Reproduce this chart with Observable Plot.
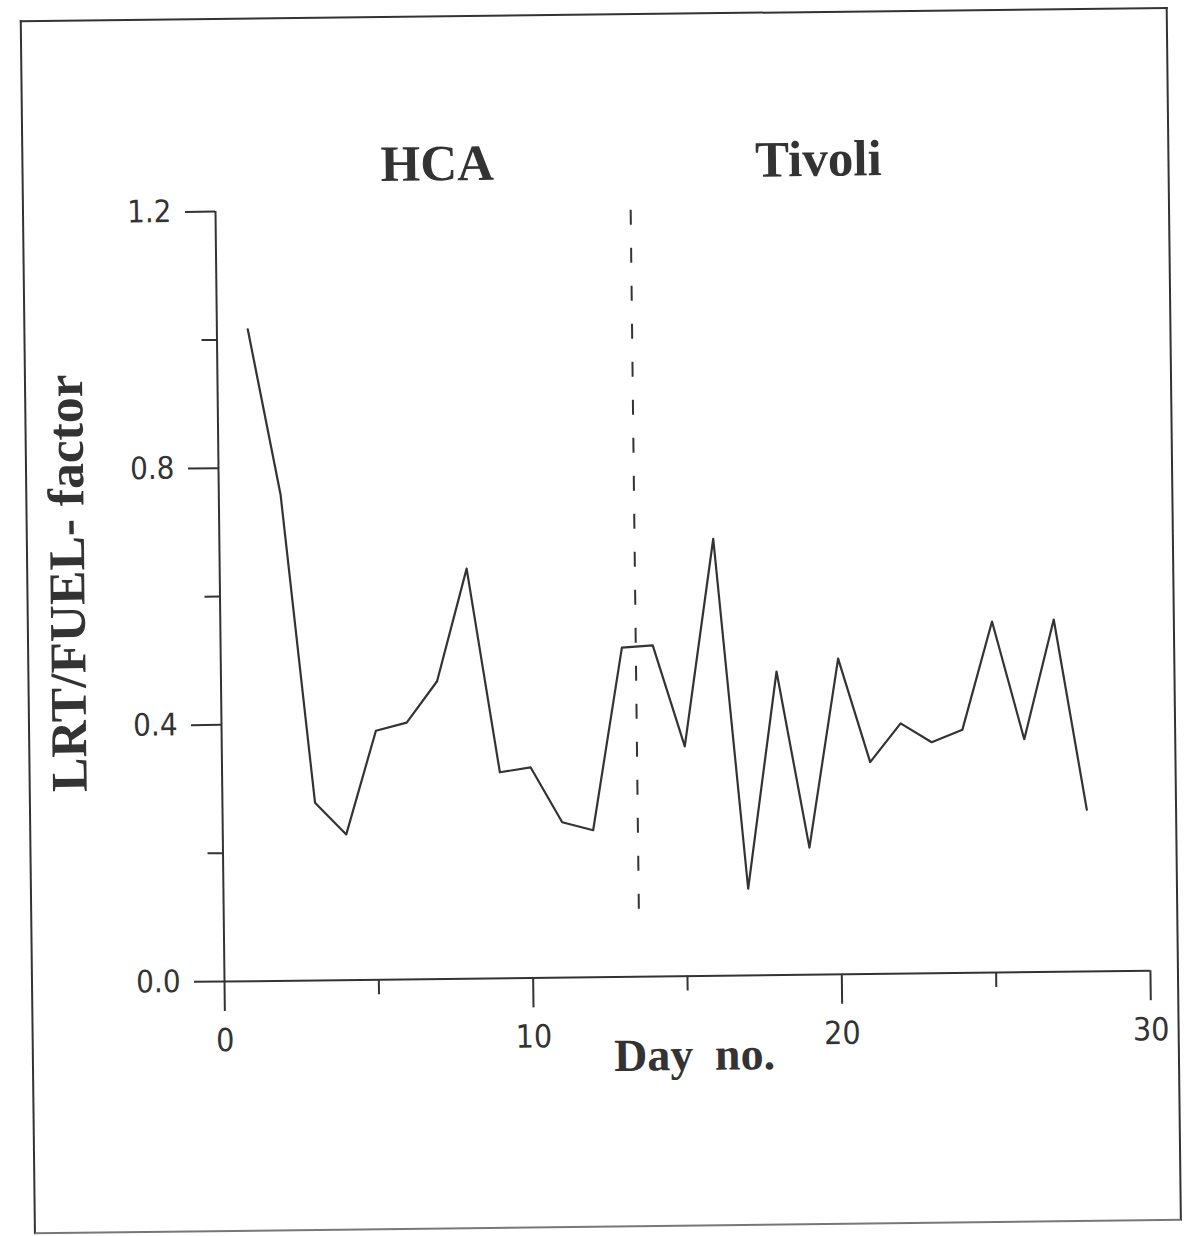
<!DOCTYPE html>
<html>
<head>
<meta charset="utf-8">
<script src="https://cdn.jsdelivr.net/npm/d3@7"></script>
<script src="https://cdn.jsdelivr.net/npm/@observablehq/plot@0.6"></script>
<style>
  html, body { margin: 0; padding: 0; background: #fff; }
  #page { position: relative; width: 1185px; height: 1236px; overflow: hidden; }
  #wrap { position: absolute; left: 0; top: 0; width: 1185px; height: 1236px;
          transform: rotate(-0.67deg); transform-origin: 224px 981px; }
  #border { position: absolute; left: 31px; top: 18px; width: 1144px; height: 1210px;
            border: 2px solid #333; border-bottom-color: #777; }
  #chart { position: absolute; left: 0; top: 0; }
</style>
</head>
<body>
<div id="page"><div id="wrap"><div id="border"></div><div id="chart"></div></div></div>
<script>
// Day numbers and LRT/FUEL factor values
const days = [1, 2, 3, 4, 5, 6, 7, 8, 9, 10, 11, 12, 13, 14,
              15, 16, 17, 18, 19, 20, 21, 22, 23, 24, 25, 26, 27, 28];
const factor = [1.016, 0.758, 0.277, 0.227, 0.388, 0.400, 0.464, 0.639, 0.321, 0.328,
                0.242, 0.229, 0.513, 0.516, 0.358, 0.681, 0.135, 0.473, 0.198, 0.492,
                0.330, 0.390, 0.360, 0.379, 0.547, 0.363, 0.549, 0.252];

// Site labels and where the site changes
const sites = ["HCA", "Tivoli"];
const siteDay = [7.2, 19.55];
const siteLevel = [1.27, 1.27];
const switchDay = [13.45];
const switchRange = [0.105, 1.2];

// Axis ticks
const xMajor = [0, 10, 20, 30];
const xMinor = [5, 15, 25];
const yMajor = [0, 0.4, 0.8, 1.2];
const yMinor = [0.2, 0.6, 1.0];

const xTitle = "Day no.";
const yTitle = "LRT/FUEL- factor";

const data = days.map((d, i) => ({day: d, factor: factor[i]}));
const siteData = sites.map((s, i) => ({label: s, x: siteDay[i], y: siteLevel[i]}));

const ink = "#333";
const tickFont = "'DejaVu Sans Condensed', 'DejaVu Sans', sans-serif";
const titleFont = "'Liberation Serif', 'DejaVu Serif', serif";

const chart = Plot.plot({
  width: 1185,
  height: 1236,
  marginLeft: 224,
  marginRight: 35,
  marginTop: 211,
  marginBottom: 255,
  x: {domain: [0, 30]},
  y: {domain: [0, 1.2]},
  style: {background: "transparent", color: ink},
  marks: [
    Plot.axisY({ticks: yMajor, tickSize: 30, tickPadding: 14, strokeWidth: 2,
                tickFormat: d3.format(".1f"), fontSize: 31, fontFamily: tickFont, label: null}),
    Plot.axisY({ticks: yMinor, tickSize: 15, strokeWidth: 2, tickFormat: () => "", label: null}),
    Plot.axisX({ticks: xMajor, tickSize: 30, tickPadding: 17, strokeWidth: 2,
                tickFormat: d3.format("d"), fontSize: 32, fontFamily: tickFont, label: null}),
    Plot.axisX({ticks: xMinor, tickSize: 15, strokeWidth: 2, tickFormat: () => "", label: null}),
    Plot.ruleX([0], {y1: 0, y2: 1.2, stroke: ink, strokeWidth: 2}),
    Plot.ruleY([0], {x1: 0, x2: 30, stroke: ink, strokeWidth: 2}),
    Plot.ruleX(switchDay, {y1: switchRange[0], y2: switchRange[1], stroke: ink,
                           strokeWidth: 2, strokeDasharray: "15,23"}),
    Plot.line(data, {x: "day", y: "factor", stroke: ink, strokeWidth: 2.2}),
    Plot.text(siteData, {x: "x", y: "y", text: "label", fontSize: 51, fontWeight: "bold",
                         fontFamily: titleFont, fill: ink}),
    Plot.text([xTitle], {x: [15.2], frameAnchor: "bottom", dy: 94, fontSize: 46,
                         fontWeight: "bold", fontFamily: titleFont, fill: ink}),
    Plot.text([yTitle], {frameAnchor: "left", textAnchor: "middle", lineAnchor: "middle",
                         dx: -152, dy: -15, rotate: -90, fontSize: 51.5,
                         fontWeight: "bold", fontFamily: titleFont, fill: ink})
  ]
});
chart.querySelectorAll("text").forEach(t => {
  if (t.textContent === xTitle) t.style.wordSpacing = "10px";
});
document.getElementById("chart").appendChild(chart);
</script>
</body>
</html>
